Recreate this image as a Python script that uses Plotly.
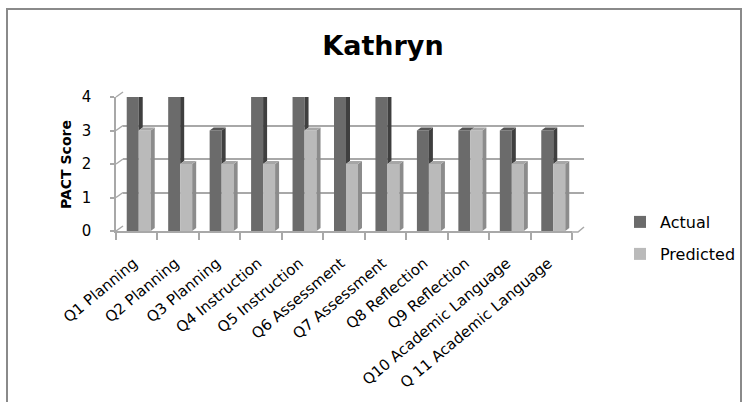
import plotly.graph_objects as go

# ---- data ----
categories = ["Q1 Planning", "Q2 Planning", "Q3 Planning", "Q4 Instruction",
              "Q5 Instruction", "Q6 Assessment", "Q7 Assessment", "Q8 Reflection",
              "Q9 Reflection", "Q10 Academic Language", "Q 11 Academic Language"]
actual = [4, 4, 3, 4, 4, 4, 4, 3, 3, 3, 3]
predicted = [3, 2, 2, 2, 3, 2, 2, 2, 3, 2, 2]
y_ticks = [0, 1, 2, 3, 4]
title_text = "Kathryn"
y_title = "PACT Score"

# ---- layout geometry (pixels) ----
W, H = 746, 402
def px(x):
    return x / W
def py(y):
    return 1 - y / H

X0, X1 = 116, 572          # front plot area
Y0, Y4 = 231, 97           # pixel y of value 0 and value 4
DX, DY = 7, 5              # back wall offset (3D depth)
n = len(categories)
cat_px = (X1 - X0) / n
val_px = (Y0 - Y4) / 4.0

FONT = "DejaVu Sans"
GRID = "#a8a8a8"

# bar geometry in data units
bw = 12 / cat_px
off_a = -10 / cat_px
off_p = 2 / cat_px
ddx = 4 / cat_px
ddy = 3 / val_px

c_act, c_act_side, c_act_top = "#6b6b6b", "#3f3f3f", "#555555"
c_pre, c_pre_side, c_pre_top = "#bababa", "#8c8c8c", "#a6a6a6"

fig = go.Figure()

# back wall subplot (gridlines only)
fig.add_trace(go.Scatter(x=[None], y=[None], xaxis="x", yaxis="y",
                         showlegend=False, hoverinfo="skip"))

fig.add_trace(go.Bar(x=categories, y=actual, name="Actual", marker_color=c_act,
                     marker_line_width=0, width=bw, offset=off_a,
                     xaxis="x2", yaxis="y2", legend="legend"))
fig.add_trace(go.Bar(x=categories, y=predicted, name="Predicted", marker_color=c_pre,
                     marker_line_width=0, width=bw, offset=off_p,
                     xaxis="x2", yaxis="y2", legend="legend2"))

shapes = []
def poly(pts, color):
    d = "M " + " L ".join(f"{x},{y}" for x, y in pts) + " Z"
    shapes.append(dict(type="path", path=d, xref="x2", yref="y2",
                       fillcolor=color, line=dict(width=0), layer="above"))

for i, (a, p) in enumerate(zip(actual, predicted)):
    # actual side & top
    xl = i + off_a
    xr = xl + bw
    lo = min(p, a)
    poly([(xr, lo), (xr + ddx, lo + ddy), (xr + ddx, a + ddy), (xr, a)], c_act_side)
    poly([(xl, a), (xl + ddx, a + ddy), (xr + ddx, a + ddy), (xr, a)], c_act_top)
    # predicted side & top
    xl = i + off_p
    xr = xl + bw
    poly([(xr, 0), (xr + ddx, ddy), (xr + ddx, p + ddy), (xr, p)], c_pre_side)
    poly([(xl, p), (xl + ddx, p + ddy), (xr + ddx, p + ddy), (xr, p)], c_pre_top)

# left wall diagonals
for v in y_ticks:
    yf = Y0 - v * val_px
    shapes.append(dict(type="line", xref="paper", yref="paper",
                       x0=px(X0), y0=py(yf), x1=px(X0 + DX), y1=py(yf - DY),
                       line=dict(color=GRID, width=1.5)))
# floor right edge
shapes.append(dict(type="path", xref="paper", yref="paper",
                   path=f"M {px(X1)},{py(Y0 + 1)} L {px(X1 + 6)},{py(Y0 + 1)} L {px(X1 + DX + 5)},{py(Y0 + 1 - DY)}",
                   line=dict(color=GRID, width=1.5)))
# outer border (left, top, right)
shapes.append(dict(type="path", xref="paper", yref="paper",
                   path=f"M {px(7)},0 L {px(7)},{py(9)} L {px(741)},{py(9)} L {px(741)},0",
                   line=dict(color="#8a8a8a", width=2)))

fig.update_layout(
    template="none",
    width=W, height=H, autosize=False,
    margin=dict(l=0, r=0, t=0, b=0, pad=0, autoexpand=False),
    paper_bgcolor="white", plot_bgcolor="rgba(0,0,0,0)",
    barmode="overlay",
    font=dict(family=FONT, color="black", size=14),
    title=dict(text=f"<b>{title_text}</b>", x=px(383), y=py(46),
               xanchor="center", yanchor="middle", automargin=False,
               font=dict(family=FONT, size=27, color="black")),
    xaxis=dict(domain=[px(X0 + DX), px(X1 + DX + 5)], anchor="y", range=[0, 1],
               automargin=False,
               showgrid=False, showticklabels=False, zeroline=False, showline=False, ticks=""),
    yaxis=dict(domain=[py(Y0 - DY), py(Y4 - DY)], anchor="x", range=[0, 4],
               automargin=False,
               tickvals=y_ticks, showgrid=True, gridcolor=GRID, gridwidth=2,
               showticklabels=False, zeroline=False, showline=False, ticks=""),
    xaxis2=dict(domain=[px(X0), px(X1)], anchor="y2", type="category",
                automargin=False,
                range=[-0.5, n - 0.5], showgrid=False, zeroline=False,
                showline=True, linecolor=GRID, linewidth=1.5,
                ticks="outside", tickson="boundaries", ticklen=7, tickcolor=GRID,
                tickwidth=1.5, tickangle=-40, tickfont=dict(family=FONT, size=15),
                ticklabelstandoff=16, ticklabelshift=-3),
    yaxis2=dict(domain=[py(Y0), py(Y4)], anchor="x2", range=[0, 4],
                automargin=False,
                tickvals=y_ticks, showgrid=False, zeroline=False,
                showline=True, linecolor=GRID, linewidth=1.5,
                ticks="outside", ticklen=4, tickcolor=GRID, tickwidth=1.5,
                tickfont=dict(family=FONT, size=15), ticklabelstandoff=16),
    legend=dict(x=px(620), y=py(222), xanchor="left", yanchor="middle",
                font=dict(family=FONT, size=16), bgcolor="rgba(0,0,0,0)"),
    legend2=dict(x=px(620), y=py(254), xanchor="left", yanchor="middle",
                 font=dict(family=FONT, size=16), bgcolor="rgba(0,0,0,0)"),
    annotations=[dict(text=f"<b>{y_title}</b>", x=px(66), y=py(165),
                      xref="paper", yref="paper", showarrow=False, textangle=-90,
                      xanchor="center", yanchor="middle",
                      font=dict(family=FONT, size=14, color="black"))],
    shapes=shapes,
    showlegend=True,
)

fig.write_html("out.html", config={"displayModeBar": False},
               post_script="document.body.style.margin='0';document.body.style.overflow='hidden';")
